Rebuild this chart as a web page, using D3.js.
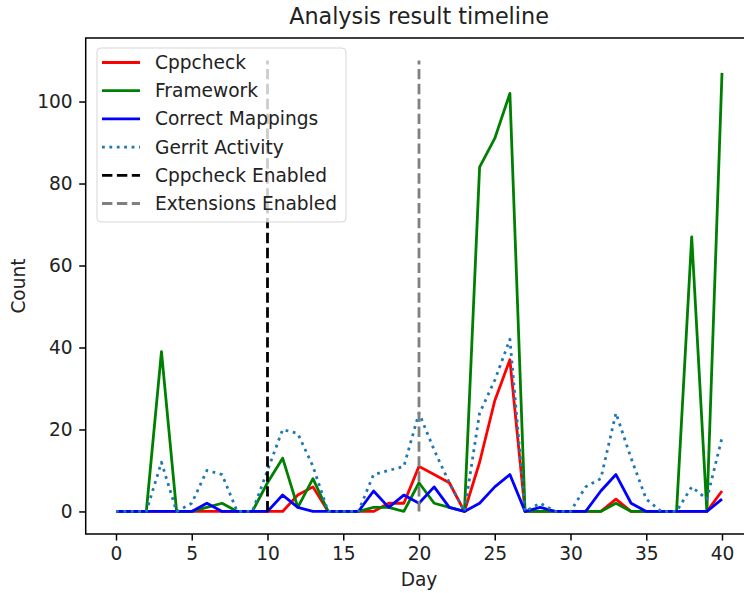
<!DOCTYPE html>
<html>
<head>
<meta charset="utf-8">
<script src="https://cdn.jsdelivr.net/npm/d3@7"></script>
<style>
    body { margin: 0; background: #fff; }
    svg { display: block; font-family: "DejaVu Sans", sans-serif; }
</style>
</head>
<body>
<svg width="744" height="593"></svg>
<script>
var days = [0, 1, 2, 3, 4, 5, 6, 7, 8, 9, 10, 11, 12, 13, 14, 15, 16, 17, 18, 19, 20,
    21, 22, 23, 24, 25, 26, 27, 28, 29, 30, 31, 32, 33, 34, 35, 36, 37, 38, 39, 40];

var cppcheck = [0, 0, 0, 0, 0, 0, 0, 0, 0, 0, 0, 0, 4, 6, 0, 0, 0, 0, 2, 2, 11,
    9, 7, 0, 12, 27, 37, 0, 0, 0, 0, 0, 0, 3, 0, 0, 0, 0, 0, 0, 5];
var framework = [0, 0, 0, 39, 0, 0, 1, 2, 0, 0, 7, 13, 1, 8, 0, 0, 0, 1, 1, 0, 7,
    2, 1, 0, 84, 91, 102, 0, 0, 0, 0, 0, 0, 2, 0, 0, 0, 0, 67, 0, 107];
var mappings = [0, 0, 0, 0, 0, 0, 2, 0, 0, 0, 0, 4, 1, 0, 0, 0, 0, 5, 1, 4, 2,
    6, 1, 0, 2, 6, 9, 0, 1, 0, 0, 0, 5, 9, 2, 0, 0, 0, 0, 0, 3];
var gerrit = [0, 0, 0, 12, 0, 2, 10, 9, 0, 0, 10, 20, 19, 11, 0, 0, 0, 9, 10, 11, 24,
    15, 7, 0, 24, 32, 42, 0, 2, 0, 0, 6, 8, 24, 13, 3, 0, 0, 6, 3, 18];

// vertical markers: day, top of line
var cppcheckEnabled = 10;
var extensionsEnabled = 20;
var markerTop = 110;

var xTicks = [0, 5, 10, 15, 20, 25, 30, 35, 40];
var yTicks = [0, 20, 40, 60, 80, 100];

var series = [
    { name: "Cppcheck", values: cppcheck, color: "#ff0000", dash: null },
    { name: "Framework", values: framework, color: "#008000", dash: null },
    { name: "Correct Mappings", values: mappings, color: "#0000ff", dash: null },
    { name: "Gerrit Activity", values: gerrit, color: "#1f77b4", dash: "2.8,4.6" }
];
var markers = [
    { name: "Cppcheck Enabled", day: cppcheckEnabled, color: "#000000", dash: "10.4,4.5" },
    { name: "Extensions Enabled", day: extensionsEnabled, color: "#808080", dash: "10.4,4.5" }
];

var svg = d3.select("svg"),
    plotLeft = 85.7,
    plotRight = 752.3,   // the right spine falls just outside the picture
    plotTop = 38,
    plotBottom = 534,
    fontSize = 18.6,
    lw = 2.8;

var x = d3.scaleLinear().domain([-2, 42]).range([plotLeft, plotRight]);
var y = d3.scaleLinear().domain([-5.5, 115.5]).range([plotBottom, plotTop]);

var line = d3.line()
    .x(function(d, i) { return x(days[i]); })
    .y(function(d) { return y(d); });

var plot = svg.append("g").attr("class", "plot");

plot.selectAll("path.series")
    .data(series)
    .enter().append("path")
    .attr("class", "series")
    .attr("d", function(d) { return line(d.values); })
    .attr("fill", "none")
    .attr("stroke", function(d) { return d.color; })
    .attr("stroke-width", lw)
    .attr("stroke-linejoin", "round")
    .attr("stroke-dasharray", function(d) { return d.dash; });

plot.selectAll("line.marker")
    .data(markers)
    .enter().append("line")
    .attr("class", "marker")
    .attr("x1", function(d) { return x(d.day); })
    .attr("x2", function(d) { return x(d.day); })
    .attr("y1", y(0))
    .attr("y2", y(markerTop))
    .attr("stroke", function(d) { return d.color; })
    .attr("stroke-width", lw)
    .attr("stroke-dasharray", function(d) { return d.dash; });

// axes
var xAxis = svg.append("g")
    .attr("transform", "translate(0," + plotBottom + ")")
    .call(d3.axisBottom(x).tickValues(xTicks).tickSize(6.5).tickPadding(6.5).tickSizeOuter(0));
var yAxis = svg.append("g")
    .attr("transform", "translate(" + plotLeft + ",0)")
    .call(d3.axisLeft(y).tickValues(yTicks).tickSize(6.5).tickPadding(6.5).tickSizeOuter(0));

[xAxis, yAxis].forEach(function(a) {
    a.select(".domain").remove();
    a.selectAll(".tick line").attr("stroke", "#000").attr("stroke-width", 1.5);
    a.selectAll(".tick text")
        .attr("fill", "#222")
        .style("font-family", "DejaVu Sans")
        .style("font-size", fontSize + "px");
});

svg.append("rect")
    .attr("x", plotLeft)
    .attr("y", plotTop)
    .attr("width", plotRight - plotLeft)
    .attr("height", plotBottom - plotTop)
    .attr("fill", "none")
    .attr("stroke", "#000")
    .attr("stroke-width", 1.5);

svg.append("text")
    .attr("x", (plotLeft + plotRight) / 2)
    .attr("y", 24)
    .attr("text-anchor", "middle")
    .style("font-size", "22.3px")
    .style("fill", "#222")
    .text("Analysis result timeline");

svg.append("text")
    .attr("x", (plotLeft + plotRight) / 2)
    .attr("y", 586)
    .attr("text-anchor", "middle")
    .style("font-size", fontSize + "px")
    .style("fill", "#222")
    .text("Day");

svg.append("text")
    .attr("transform", "translate(25," + ((plotTop + plotBottom) / 2) + ") rotate(-90)")
    .attr("text-anchor", "middle")
    .style("font-size", fontSize + "px")
    .style("fill", "#222")
    .text("Count");

// legend
var entries = series.concat(markers);
var legend = svg.append("g").attr("class", "legend");

legend.append("rect")
    .attr("x", 97)
    .attr("y", 48)
    .attr("width", 249)
    .attr("height", 174)
    .attr("rx", 4)
    .attr("fill", "#fff")
    .attr("fill-opacity", 0.8)
    .attr("stroke", "#cccccc")
    .attr("stroke-opacity", 0.8)
    .attr("stroke-width", 1);

var item = legend.selectAll("g.item")
    .data(entries)
    .enter().append("g")
    .attr("class", "item")
    .attr("transform", function(d, i) { return "translate(0," + (62.5 + i * 28.2) + ")"; });

item.append("line")
    .attr("x1", 102)
    .attr("x2", 140)
    .attr("stroke", function(d) { return d.color; })
    .attr("stroke-width", lw)
    .attr("stroke-dasharray", function(d) { return d.dash; });

item.append("text")
    .attr("x", 155)
    .attr("dy", "0.35em")
    .style("font-size", fontSize + "px")
    .style("fill", "#222")
    .text(function(d) { return d.name; });
</script>
</body>
</html>
